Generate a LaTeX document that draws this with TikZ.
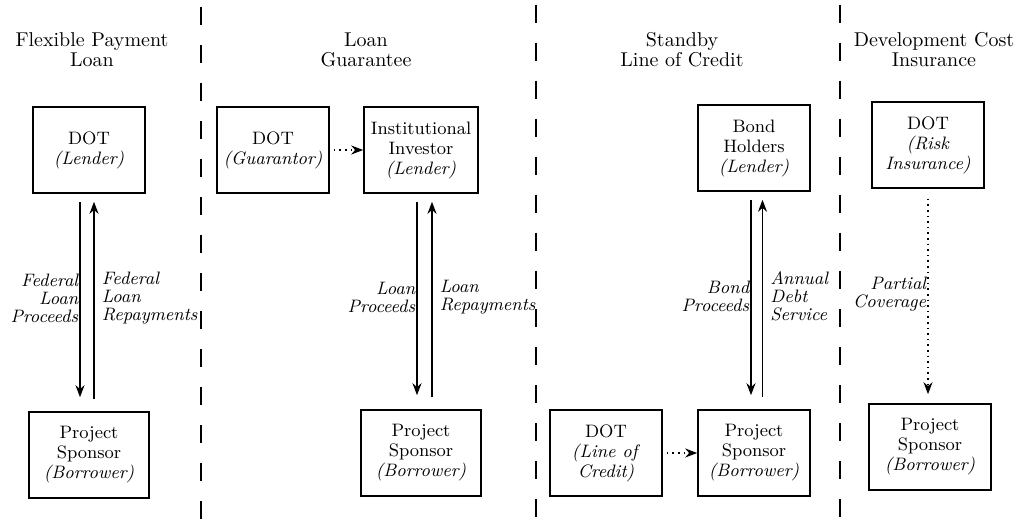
\documentclass[tikz,border=0pt]{standalone}
\usepackage{tikz}
\usetikzlibrary{arrows.meta}

\begin{document}
\begin{tikzpicture}[x=0.5pt,y=-0.5pt,
	box/.style={draw,line width=0.8pt,minimum width=56pt,minimum height=43pt,align=center,inner sep=1pt,font=\fontsize{9}{10}\selectfont},
	title/.style={align=center,inner sep=0pt,font=\fontsize{10}{10}\selectfont},
	lbl/.style={align=right,inner sep=0.5pt,font=\fontsize{9}{9}\selectfont\itshape},
	rlbl/.style={align=left,inner sep=0.5pt,xshift=3pt,font=\fontsize{9}{9}\selectfont\itshape},
	flow/.style={line width=0.8pt,-{Stealth[length=6pt,width=4.5pt]}},
	hint/.style={dotted,line width=0.8pt,-{Stealth[length=6pt,width=4.5pt]}},
	divider/.style={line width=1pt,dash pattern=on 9pt off 10pt}]
	\useasboundingbox (0,0) rectangle (1022,529);
	\draw[divider] (201,7) -- (201,529);
	\draw[divider] (536,5) -- (536,529);
	\draw[divider] (840,5) -- (840,529);
	\node[title] (tflex) at (92,50) {Flexible Payment\\Loan};
	\node[title] (tguar) at (366,50) {Loan\\Guarantee};
	\node[title] (tstand) at (682,50) {Standby\\Line of Credit};
	\node[title] (tins) at (934,50) {Development Cost\\Insurance};
	\node[box] (dotlend) at (89,150) {DOT\\\textit{(Lender)}};
	\node[box] (dotguar) at (273,150) {DOT\\\textit{(Guarantor)}};
	\node[box,minimum width=57pt] (invest) at (421,150) {Institutional\\Investor\\\textit{(Lender)}};
	\node[box] (bond) at (754,148) {Bond\\Holders\\\textit{(Lender)}};
	\node[box] (dotrisk) at (928,145) {DOT\\\textit{(Risk}\\\textit{Insurance)}};
	\node[box,minimum width=60pt] (spflex) at (89,455) {Project\\Sponsor\\\textit{(Borrower)}};
	\node[box,minimum width=60pt] (spguar) at (421,453) {Project\\Sponsor\\\textit{(Borrower)}};
	\node[box] (dotline) at (606,453) {DOT\\\textit{(Line of}\\\textit{Credit)}};
	\node[box] (spstand) at (754,453) {Project\\Sponsor\\\textit{(Borrower)}};
	\node[box,minimum width=61pt] (spins) at (930,447) {Project\\Sponsor\\\textit{(Borrower)}};
	\draw[flow,shorten <=4pt,shorten >=7pt] ([xshift=-4.5pt]dotlend.south) -- node[lbl,pos=0.48,left] {Federal\\Loan\\Proceeds} ([xshift=-4.5pt]spflex.north);
	\draw[flow,shorten <=6pt,shorten >=4pt] ([xshift=2.5pt]spflex.north) -- node[rlbl,pos=0.52,right] {Federal\\Loan\\Repayments} ([xshift=2.5pt]dotlend.south);
	\draw[flow,shorten <=4pt,shorten >=7pt] ([xshift=-2pt]invest.south) -- node[lbl,pos=0.48,left] {Loan\\Proceeds} ([xshift=-2pt]spguar.north);
	\draw[flow,shorten <=6pt,shorten >=4pt] ([xshift=5.5pt]spguar.north) -- node[rlbl,pos=0.52,right] {Loan\\Repayments} ([xshift=5.5pt]invest.south);
	\draw[flow,shorten <=4pt,shorten >=7pt] ([xshift=-1.5pt]bond.south) -- node[lbl,pos=0.48,left] {Bond\\Proceeds} ([xshift=-1.5pt]spstand.north);
	\draw[flow,shorten <=6pt,shorten >=4pt] ([xshift=4.25pt]spstand.north) -- node[rlbl,pos=0.52,right] {Annual\\Debt\\Service} ([xshift=4.25pt]bond.south);
	\draw[hint,shorten <=5pt,shorten >=4.5pt] (dotrisk.south) -- node[lbl,pos=0.49,left] {Partial\\Coverage} (dotrisk.south |- spins.north);
	\draw[hint,shorten <=2pt] (dotguar.east) -- (invest.west);
	\draw[hint,shorten <=2pt] (dotline.east) -- (spstand.west);
\end{tikzpicture}
\end{document}
